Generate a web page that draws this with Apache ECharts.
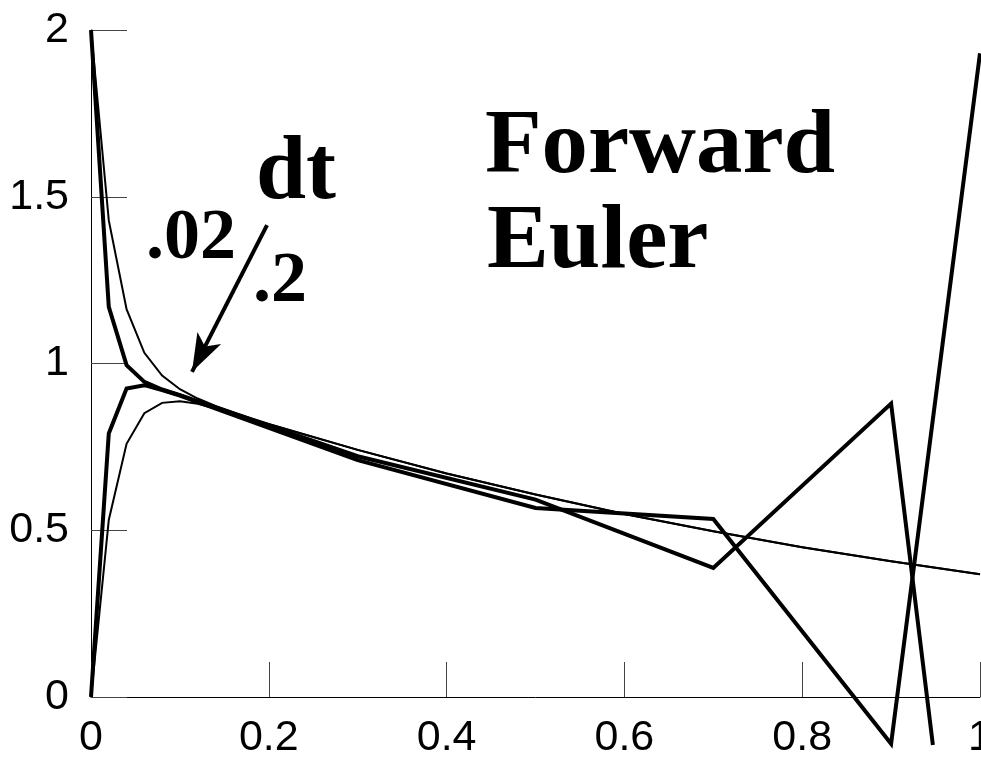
<!DOCTYPE html>
<html>
<head>
<meta charset="utf-8">
<script src="https://cdn.jsdelivr.net/npm/echarts@6/dist/echarts.min.js"></script>
<style>
html,body{margin:0;padding:0;background:#fff;}
#chart{width:981px;height:759px;}
</style>
</head>
<body>
<div id="chart"></div>
<script>
// x tick labels / y tick labels
var xTicks = ['0', '0.2', '0.4', '0.6', '0.8', '1'];
var yTicks = ['0', '0.5', '1', '1.5', '2'];

// thin lines: exact solutions (from y0 = 2 and y0 = 0)
var tExact = [0, 0.02, 0.04, 0.06, 0.08, 0.10, 0.12, 0.14, 0.16, 0.18, 0.20, 0.30, 0.40, 0.50, 0.60, 0.70, 0.80, 0.90, 1.00];
var yExactFrom2 = [2.000, 1.429, 1.163, 1.032, 0.964, 0.923, 0.895, 0.873, 0.854, 0.836, 0.819, 0.741, 0.670, 0.607, 0.549, 0.497, 0.449, 0.407, 0.368];
var yExactFrom0 = [0.000, 0.531, 0.759, 0.851, 0.882, 0.887, 0.879, 0.865, 0.850, 0.834, 0.818, 0.741, 0.670, 0.607, 0.549, 0.497, 0.449, 0.407, 0.368];

// thick lines: forward Euler, dt = .02 then dt = .2
var tEulerA = [0, 0.02, 0.04, 0.06, 0.08, 0.10, 0.30, 0.50, 0.70, 0.90, 0.947];
var yEulerA = [2.000, 1.170, 0.995, 0.945, 0.922, 0.905, 0.722, 0.592, 0.387, 0.880, -0.144];
var tEulerB = [0, 0.02, 0.04, 0.06, 0.08, 0.10, 0.30, 0.50, 0.70, 0.90, 1.00];
var yEulerB = [0.000, 0.790, 0.925, 0.935, 0.920, 0.904, 0.710, 0.567, 0.534, -0.140, 1.930];

// arrow annotation (data coordinates)
var arrowFrom = [0.198, 1.415];
var arrowTo = [0.1136, 0.975];

function zip(t, y) { return t.map(function (v, i) { return [v, y[i]]; }); }

var chart = echarts.init(document.getElementById('chart'), null, {renderer: 'canvas'});

var labelFont = {fontFamily: 'Liberation Sans, Arial, sans-serif', fontSize: 43, color: '#000'};
function sf(s) { return 'bold ' + s + 'px "Liberation Serif", "Times New Roman", serif'; }

var option = {
  animation: false,
  backgroundColor: '#fff',
  grid: {left: 91, right: 1, top: 30, bottom: 62, containLabel: false, outerBoundsMode: 'none'},
  xAxis: {
    type: 'value', min: 0, max: 1, interval: 0.2,
    axisLine: {show: true, lineStyle: {color: '#000', width: 1}},
    axisTick: {show: true, inside: true, length: 35, lineStyle: {color: '#444', width: 1}},
    axisLabel: Object.assign({margin: 20, hideOverlap: false, formatter: function (v) { return xTicks[Math.round(v / 0.2)]; }}, labelFont),
    splitLine: {show: false}
  },
  yAxis: {
    type: 'value', min: 0, max: 2, interval: 0.5,
    axisLine: {show: true, onZero: false, lineStyle: {color: '#000', width: 1}},
    axisTick: {show: true, inside: true, length: 36, lineStyle: {color: '#444', width: 1}},
    axisLabel: Object.assign({margin: 22, hideOverlap: false, formatter: function (v) { return yTicks[Math.round(v / 0.5)]; }}, labelFont),
    splitLine: {show: false}
  },
  series: [
    {type: 'line', data: zip(tExact, yExactFrom2), showSymbol: false, clip: false,
     lineStyle: {color: '#000', width: 2, join: 'miter'}},
    {type: 'line', data: zip(tExact, yExactFrom0), showSymbol: false, clip: false,
     lineStyle: {color: '#000', width: 2, join: 'miter'}},
    {type: 'line', data: zip(tEulerA, yEulerA), showSymbol: false, clip: false,
     lineStyle: {color: '#000', width: 4, join: 'miter'}},
    {type: 'line', data: zip(tEulerB, yEulerB), showSymbol: false, clip: false,
     lineStyle: {color: '#000', width: 4, join: 'miter'},
     markLine: {
       silent: true, symbol: ['none', 'arrow'], symbolSize: [20, 38], precision: 4,
       label: {show: false},
       lineStyle: {color: '#000', width: 4, type: 'solid'},
       data: [[{coord: arrowFrom}, {coord: arrowTo}]]
     }}
  ],
  graphic: [
    {type: 'text', x: 485, y: 149, scaleX: 1.03, style: {text: 'Forward', font: sf(90), fill: '#000', verticalAlign: 'middle', align: 'left'}},
    {type: 'text', x: 487, y: 244, scaleX: 1.03, style: {text: 'Euler', font: sf(90), fill: '#000', verticalAlign: 'middle', align: 'left'}},
    {type: 'text', x: 256, y: 175, style: {text: 'dt', font: sf(90), fill: '#000', verticalAlign: 'middle', align: 'left'}},
    {type: 'text', x: 146, y: 239, style: {text: '.02', font: sf(72), fill: '#000', verticalAlign: 'middle', align: 'left'}},
    {type: 'text', x: 253, y: 282, style: {text: '.2', font: sf(72), fill: '#000', verticalAlign: 'middle', align: 'left'}}
  ]
};
chart.setOption(option);
</script>
</body>
</html>
